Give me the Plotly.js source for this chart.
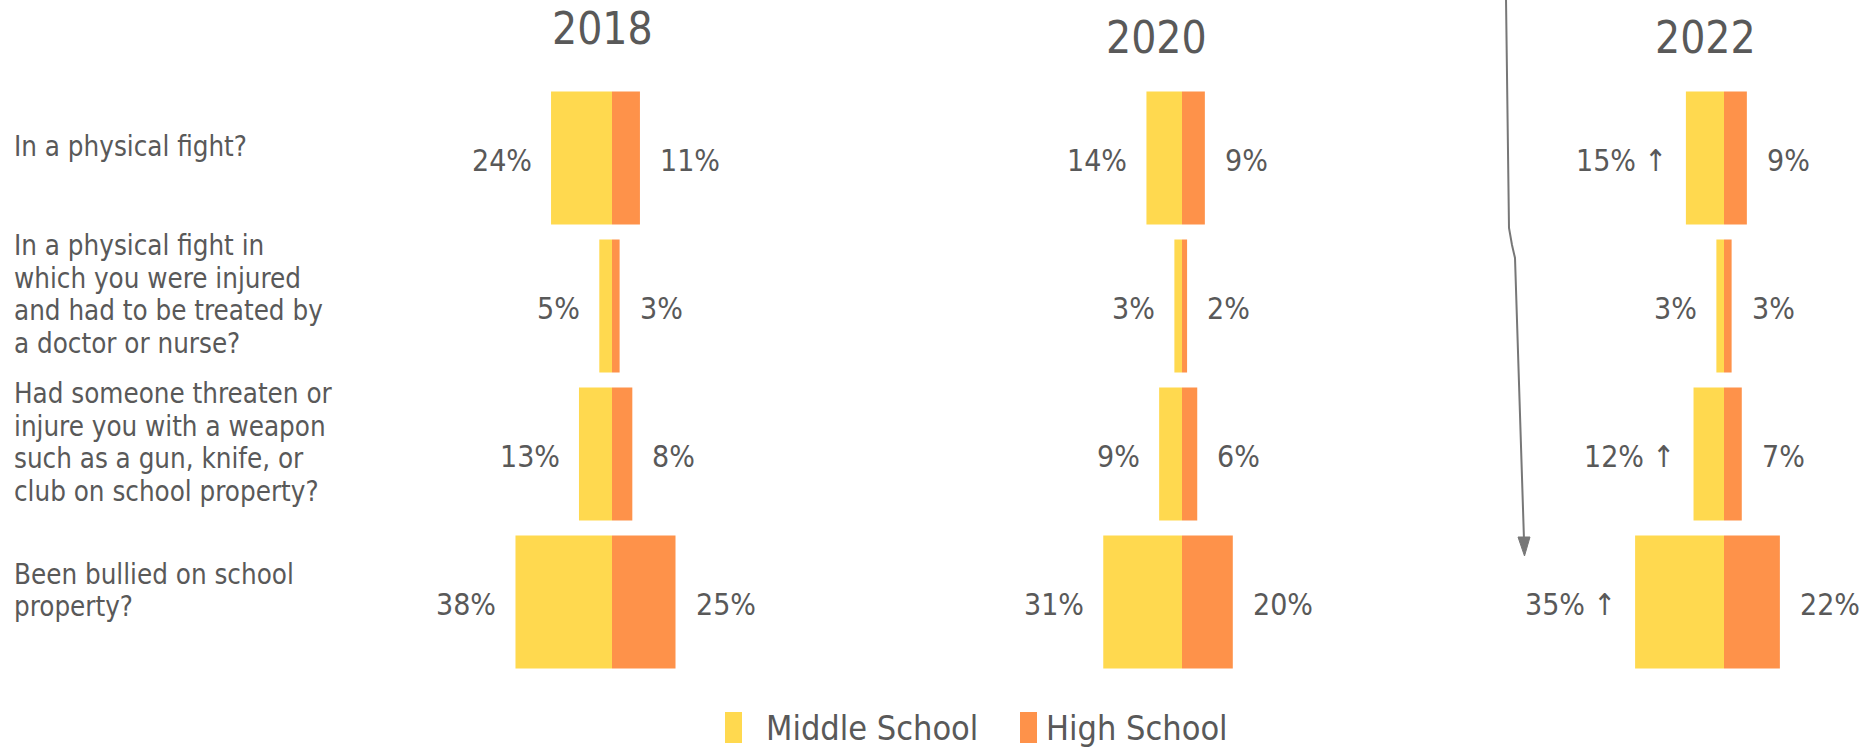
<!DOCTYPE html>
<html>
<head>
<meta charset="utf-8">
<script src="https://cdn.plot.ly/plotly-3.0.1.min.js"></script>
<style>html,body{margin:0;padding:0;background:#fff;}#chart{width:1876px;height:748px;}</style>
</head>
<body>
<div id="chart"></div>
<script>
var categories = [
  "In a physical fight?",
  "In a physical fight in<br>which you were injured<br>and had to be treated by<br>a doctor or nurse?",
  "Had someone threaten or<br>injure you with a weapon<br>such as a gun, knife, or<br>club on school property?",
  "Been bullied on school<br>property?"
];
var years = ["2018", "2020", "2022"];
var middle2018 = [24, 5, 13, 38];
var high2018   = [11, 3, 8, 25];
var middle2020 = [14, 3, 9, 31];
var high2020   = [9, 2, 6, 20];
var middle2022 = [15, 3, 12, 35];
var high2022   = [9, 3, 7, 22];
var increase2022 = [true, false, true, true];
var seriesNames = ["Middle School", "High School"];

var middle = [middle2018, middle2020, middle2022];
var high = [high2018, high2020, high2022];
var increases = [[false,false,false,false],[false,false,false,false], increase2022];

var W = 1876, H = 748;
var FONT = "'Liberation Sans Narrow', 'DejaVu Sans Condensed', sans-serif";
var TXT = "#595959";
var YELLOW = "#FFD94F", ORANGE = "#FE924A";
var pxPerPct = 2.54;
var panelW = 300;
var centers = [612, 1182, 1724];
var R = panelW / 2 / pxPerPct;
var rowIdx = categories.map(function(c, i){ return i; });

var data = [];
var layout = {
  width: W, height: H,
  margin: {l: 0, r: 0, t: 0, b: 0},
  paper_bgcolor: "#fff", plot_bgcolor: "rgba(0,0,0,0)",
  barmode: "relative",
  bargap: 0.1,
  showlegend: false,
  font: {family: FONT, color: TXT},
  annotations: [],
  shapes: []
};
layout.yaxis = {
  domain: [(H - 676) / H, (H - 84) / H],
  range: [3.5, -0.5],
  visible: false,
  fixedrange: true
};

years.forEach(function(yr, p) {
  var ax = p === 0 ? "" : String(p + 1);
  var xa = "x" + ax;
  layout["xaxis" + ax] = {
    domain: [(centers[p] - panelW / 2) / W, (centers[p] + panelW / 2) / W],
    range: [-R, R],
    visible: false,
    fixedrange: true,
    anchor: "y"
  };
  data.push({
    type: "bar", orientation: "h",
    x: middle[p].map(function(v){ return -v; }),
    y: rowIdx,
    xaxis: xa, yaxis: "y",
    name: seriesNames[0],
    marker: {color: YELLOW},
    hoverinfo: "skip"
  });
  data.push({
    type: "bar", orientation: "h",
    x: high[p],
    y: rowIdx,
    xaxis: xa, yaxis: "y",
    name: seriesNames[1],
    marker: {color: ORANGE},
    hoverinfo: "skip"
  });
  rowIdx.forEach(function(r) {
    layout.annotations.push({
      xref: xa, yref: "y", x: -middle[p][r], y: r,
      text: middle[p][r] + "%" + (increases[p][r] ? " \u2191" : ""),
      showarrow: false, xanchor: "right", yanchor: "middle", xshift: -17, yshift: -2,
      font: {family: FONT, size: 30, color: TXT}
    });
    layout.annotations.push({
      xref: xa, yref: "y", x: high[p][r], y: r,
      text: high[p][r] + "%",
      showarrow: false, xanchor: "left", yanchor: "middle", xshift: 18, yshift: -2,
      font: {family: FONT, size: 30, color: TXT}
    });
  });
});

// year titles
var titlePos = [[602, 28], [1156, 38], [1705, 38]];
years.forEach(function(yr, p) {
  layout.annotations.push({
    xref: "paper", yref: "paper",
    x: titlePos[p][0] / W, y: 1 - titlePos[p][1] / H,
    text: yr, showarrow: false, xanchor: "center", yanchor: "middle",
    font: {family: FONT, size: 44, color: TXT}
  });
});

// row labels, one annotation per line
var lineGap = 32.4;
categories.forEach(function(c, i) {
  var lines = c.split("<br>");
  lines.forEach(function(t, k) {
    var off = (k - (lines.length - 1) / 2) * lineGap;
    layout.annotations.push({
      xref: "paper", yref: "y", x: 12 / W, y: i,
      text: t, showarrow: false, xanchor: "left", yanchor: "middle", align: "left",
      yshift: 12 - off,
      font: {family: FONT, size: 27.5, color: TXT}
    });
  });
});

// custom legend
function px(x){ return x / W; }
function py(y){ return 1 - y / H; }
layout.shapes.push({type: "rect", xref: "paper", yref: "paper",
  x0: px(725), x1: px(742), y0: py(712), y1: py(743), fillcolor: YELLOW, line: {width: 0}});
layout.shapes.push({type: "rect", xref: "paper", yref: "paper",
  x0: px(1020), x1: px(1037), y0: py(712), y1: py(743), fillcolor: ORANGE, line: {width: 0}});
layout.annotations.push({xref: "paper", yref: "paper", x: px(764), y: py(728),
  text: seriesNames[0], showarrow: false, xanchor: "left", yanchor: "middle",
  font: {family: FONT, size: 34, color: TXT}});
layout.annotations.push({xref: "paper", yref: "paper", x: px(1044), y: py(728),
  text: seriesNames[1], showarrow: false, xanchor: "left", yanchor: "middle",
  font: {family: FONT, size: 34, color: TXT}});

// divider arrow
var pts = [[1506, -2], [1509, 228], [1512, 245], [1515, 258], [1524, 540]];
var path = "M " + pts.map(function(q){ return px(q[0]) + "," + py(q[1]); }).join(" L ");
layout.shapes.push({type: "path", xref: "paper", yref: "paper", path: path,
  line: {color: "#777777", width: 2}});
layout.shapes.push({type: "path", xref: "paper", yref: "paper",
  path: "M " + px(1518) + "," + py(537) + " L " + px(1530) + "," + py(537) + " L " + px(1524.5) + "," + py(556) + " Z",
  fillcolor: "#777777", line: {color: "#777777", width: 1}});

Plotly.newPlot("chart", data, layout, {displayModeBar: false, staticPlot: true});
</script>
</body>
</html>
